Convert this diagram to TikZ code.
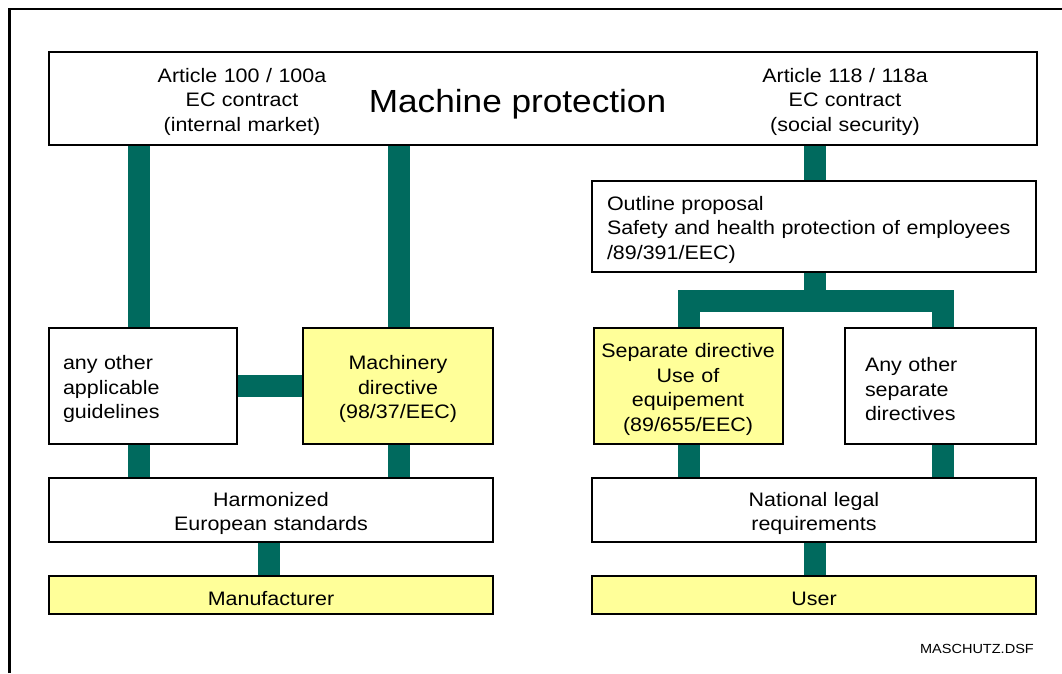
\documentclass[tikz,border=0pt]{standalone}
\usepackage{fontspec}
\setmainfont{Liberation Sans}[FakeStretch=1.1]
\usetikzlibrary{backgrounds}

\definecolor{barteal}{RGB}{0,106,94}
\definecolor{paleyellow}{RGB}{255,255,153}

\newcommand\bodyfont{\fontsize{19.5}{24.5}\selectfont}
\newcommand\titlefont{\fontsize{32}{38}\selectfont}
\newcommand\tagfont{\fontsize{13.2}{16}\selectfont}
% tall invisible strut: sets the text a little lower inside its box
\newcommand\dropstrut{\rule{0pt}{21pt}}

\tikzset{
  box/.style={draw=black, line width=2pt, fill=white, inner sep=0pt,
              align=center, font=\bodyfont, execute at begin node=\dropstrut},
  hilite/.style={box, fill=paleyellow},
  txt/.style={inner sep=0pt, align=center, font=\bodyfont,
              execute at begin node=\dropstrut},
  bar/.style={draw=barteal, line width=22pt, line cap=butt, line join=miter},
}

\begin{document}
\begin{tikzpicture}[x=1pt,y=-1pt]
\useasboundingbox (0,0) rectangle (1062,673);

% page frame
\draw[line width=2.5pt] (9.5,673) -- (9.5,9) -- (1062,9);

% headline box with its three texts
\node[box, minimum width=988, minimum height=93] (top) at (543,98.5) {};
\node[txt, text width=200] (art100) at (242,98.5)
  {Article 100 / 100a\\EC contract\\(internal market)};
\node[txt, font=\titlefont, anchor=base, execute at begin node={}] (title)
  at (517.5,112) {Machine protection};
\node[txt, text width=200] (art118) at (845,98.5)
  {Article 118 / 118a\\EC contract\\(social security)};

% left branch: manufacturer side
\node[box, minimum width=188, minimum height=116, text width=160, align=left]
  (other) at (143,386) {any other\\applicable\\guidelines};
\node[hilite, minimum width=190, minimum height=116, text width=186]
  (mach) at (398,386) {Machinery\\directive\\(98/37/EEC)};
\node[box, minimum width=444, minimum height=64, text width=440]
  (harm) at (271,510) {Harmonized\\European standards};
\node[hilite, minimum width=444, minimum height=38]
  (manu) at (271,595) {Manufacturer};

% right branch: user side
\node[box, minimum width=444, minimum height=91, text width=414, align=left]
  (outline) at (814,226.5) {Outline proposal\\Safety and health protection of employees\\/89/391/EEC)};
\node[hilite, minimum width=189, minimum height=116, text width=185]
  (sep) at (688,386) {Separate directive\\Use of\\equipement\\(89/655/EEC)};
\node[box, minimum width=191, minimum height=116, text width=151, align=left]
  (anysep) at (940.5,386) {Any other\\separate\\directives};
\node[box, minimum width=444, minimum height=64, text width=440]
  (natl) at (814,510) {National legal\\requirements};
\node[hilite, minimum width=444, minimum height=38]
  (user) at (814,595) {User};

% file tag
\node[txt, font=\tagfont, anchor=base east, execute at begin node={}] (tag)
  at (1034,653) {MASCHUTZ.DSF};

% x positions of the vertical bars and height of the fork
\coordinate (xa) at (139,0);
\coordinate (xb) at (399,0);
\coordinate (xc) at (269,0);
\coordinate (xd) at (815,0);
\coordinate (xe) at (689,0);
\coordinate (xf) at (942.5,0);
\coordinate (yj) at (0,301);

\begin{scope}[on background layer]
  \draw[bar] (xa |- top.south) -- (xa |- other.north);
  \draw[bar] (xb |- top.south) -- (xb |- mach.north);
  \draw[bar] (other.east) -- (mach.west);
  \draw[bar] (xa |- other.south) -- (xa |- harm.north);
  \draw[bar] (xb |- mach.south) -- (xb |- harm.north);
  \draw[bar] (xc |- harm.south) -- (xc |- manu.north);

  \draw[bar] (xd |- top.south) -- (xd |- outline.north);
  \draw[bar] (xd |- outline.south) -- (xd |- yj);
  \draw[bar] (xe |- sep.north) -- (xe |- yj) -- (xf |- yj) -- (xf |- anysep.north);
  \draw[bar] (xe |- sep.south) -- (xe |- natl.north);
  \draw[bar] (xf |- anysep.south) -- (xf |- natl.north);
  \draw[bar] (xd |- natl.south) -- (xd |- user.north);
\end{scope}
\end{tikzpicture}
\end{document}
